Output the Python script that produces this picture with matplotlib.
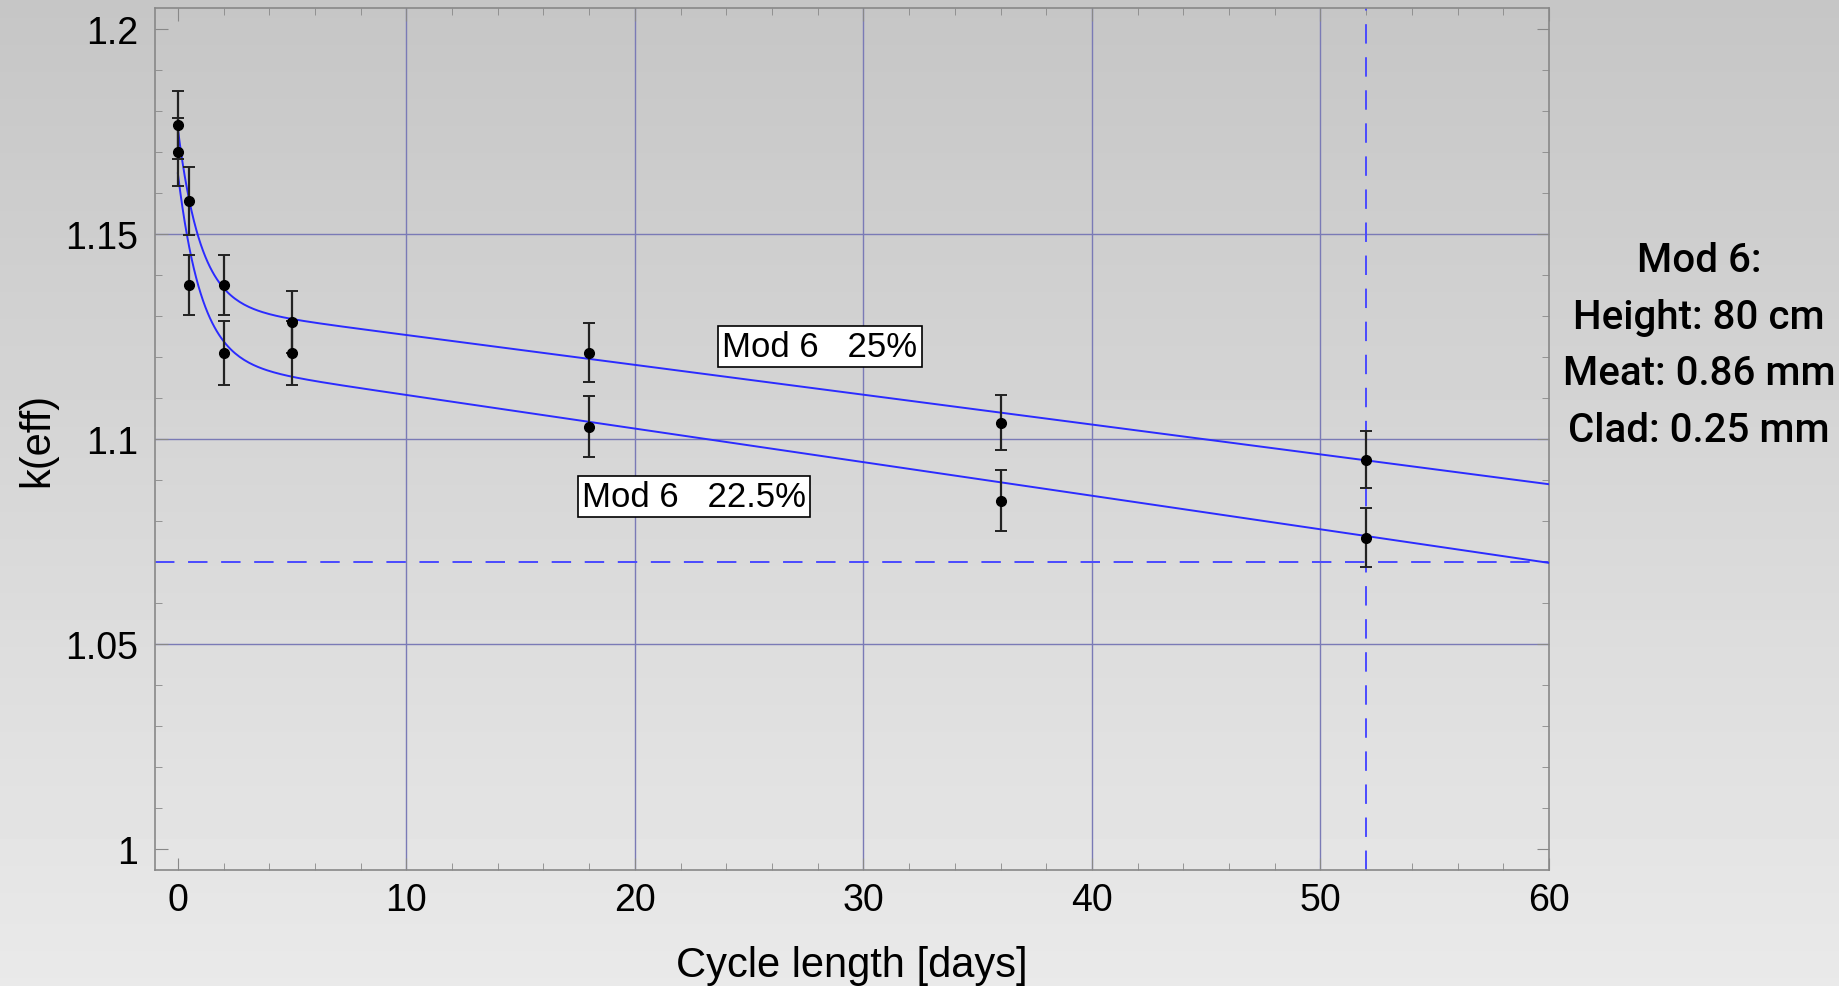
import numpy as np
import matplotlib
matplotlib.use("Agg")
import matplotlib.pyplot as plt
from matplotlib.ticker import MultipleLocator, FuncFormatter

# burnup points (days) and k-eff for both enrichments
days = [0, 0.5, 2, 5, 18, 36, 52]
k_25 = [1.1765, 1.158, 1.1375, 1.1285, 1.121, 1.104, 1.095]
k_225 = [1.170, 1.1375, 1.121, 1.121, 1.103, 1.085, 1.076]
err_25 = [0.0083, 0.0083, 0.0074, 0.0075, 0.0072, 0.0067, 0.0070]
err_225 = [0.0083, 0.0074, 0.0078, 0.0078, 0.0075, 0.0075, 0.0072]

# fitted curves: k = a + b*t + c*exp(-t/tau)
fit_25 = (1.1326, -0.000727, 0.0430, 0.985)
fit_225 = (1.1189, -0.000818, 0.0458, 1.03)

k_limit = 1.07
day_limit = 52
grid_x = [10, 20, 30, 40, 50]
grid_y = [1.05, 1.10, 1.15]

plt.rcParams['font.family'] = ['Liberation Sans', 'DejaVu Sans']

fig = plt.figure(figsize=(18.39, 9.87), dpi=100)

# grey vertical gradient behind everything
bg = fig.add_axes([0, 0, 1, 1], zorder=-10)
grad = np.linspace(0.775, 0.915, 256).reshape(-1, 1)
bg.imshow(grad, cmap='gray', vmin=0, vmax=1, aspect='auto', extent=[0, 1, 1, 0])
bg.axis('off')

W, H = 1839, 987
ax = fig.add_axes([155 / W, 1 - 871 / H, (1549 - 155) / W, (871 - 9) / H])
ax.patch.set_alpha(0)

for gx in grid_x:
    ax.axvline(gx, color='#7a7ab6', lw=1.0, zorder=1)
for gy in grid_y:
    ax.axhline(gy, color='#7a7ab6', lw=1.0, zorder=1)

ax.axhline(k_limit, color='#4a4aff', lw=1.4, dashes=(10, 7), zorder=2)
ax.axvline(day_limit, color='#4a4aff', lw=1.4, dashes=(10, 7), zorder=2)

t = np.linspace(0, 60, 600)
for a, b, c, tau in (fit_25, fit_225):
    ax.plot(t, a + b * t + c * np.exp(-t / tau), color='#2b2bff', lw=1.4, zorder=3)

for k, e in ((k_25, err_25), (k_225, err_225)):
    ax.errorbar(days, k, yerr=e, fmt='o', color='black', ecolor='#222222',
                ms=7, elinewidth=1.6, capsize=4, capthick=1.4, zorder=4)

box = dict(boxstyle='square,pad=0.12', fc='white', ec='black', lw=1.2)
ax.text(28.1, 1.1226, 'Mod 6   25%', fontsize=25, ha='center', va='center', bbox=box, zorder=5)
ax.text(22.6, 1.086, 'Mod 6   22.5%', fontsize=25, ha='center', va='center', bbox=box, zorder=5)

ax.set_xlim(-1, 60)
ax.set_ylim(0.995, 1.205)
ax.xaxis.set_major_locator(MultipleLocator(10))
ax.xaxis.set_minor_locator(MultipleLocator(2))
ax.yaxis.set_major_locator(MultipleLocator(0.05))
ax.yaxis.set_minor_locator(MultipleLocator(0.01))
ax.yaxis.set_major_formatter(FuncFormatter(lambda v, p: '%g' % round(v, 3)))
ax.tick_params(which='both', direction='in', top=True, right=True, color='#888888', labelsize=27)
ax.tick_params(which='major', length=9, pad=12)
ax.tick_params(axis='x', which='major', pad=9)
ax.tick_params(which='minor', length=5)
for s in ax.spines.values():
    s.set_color('#888888')
    s.set_linewidth(1.2)

ax.set_xlabel('Cycle length [days]', fontsize=30, labelpad=19)
ax.set_ylabel('k(eff)', fontsize=30, labelpad=6)

fig.text(1699 / W, 1 - 346 / H, 'Mod 6:\nHeight: 80 cm\nMeat: 0.86 mm\nClad: 0.25 mm',
         fontsize=29, ha='center', va='center', linespacing=1.62, fontweight='medium',
         family=['Roboto', 'DejaVu Sans'])

fig.savefig('out.png', dpi=100)
